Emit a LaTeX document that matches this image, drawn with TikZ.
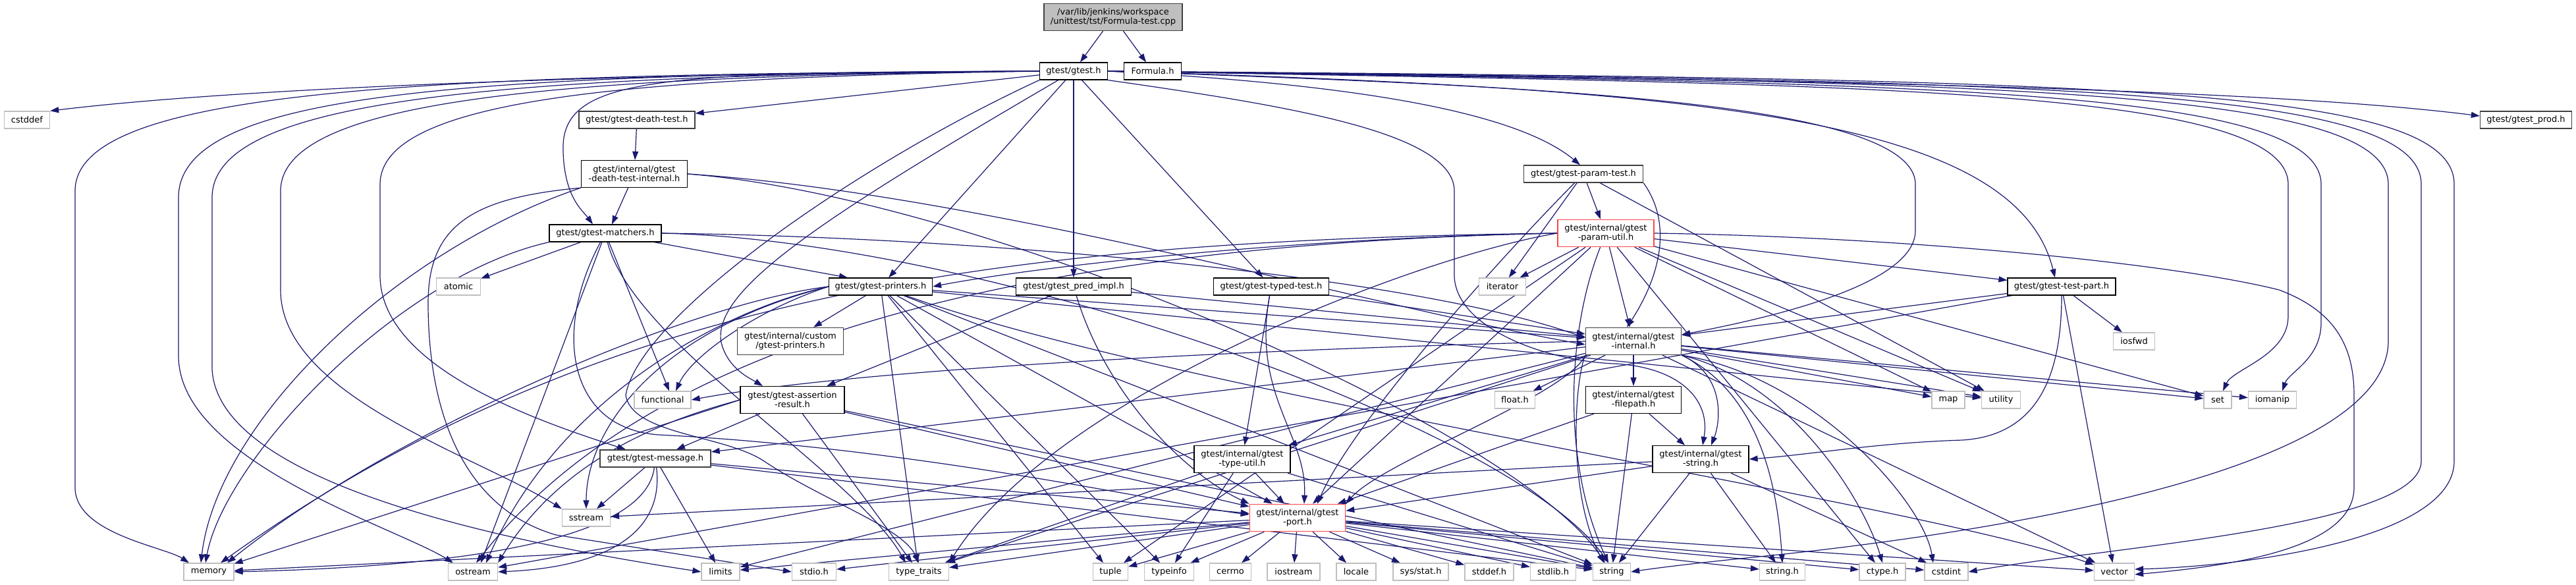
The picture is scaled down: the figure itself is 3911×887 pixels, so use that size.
\documentclass[tikz,border=0pt]{standalone}
\usepackage{fontspec}
\setmainfont{DejaVu Sans}
\usetikzlibrary{arrows.meta}
\definecolor{eblue}{RGB}{25,25,112}
\definecolor{leafgray}{RGB}{191,191,191}
\definecolor{dgray}{RGB}{64,64,64}
\definecolor{redb}{RGB}{250,70,70}
\pgfdeclarelayer{edges}
\pgfsetlayers{edges,main}
\begin{document}
\begin{tikzpicture}[x=1pt,y=1pt,
 every node/.style={font=\fontsize{13}{14}\selectfont, align=center, inner sep=2pt, fill=white, minimum height=26pt},
 hdr/.style={draw=black, line width=1.2pt},
 hdrg/.style={draw=dgray, line width=1.4pt},
 leaf/.style={draw=leafgray, line width=1.3pt},
 redn/.style={draw=redb, line width=1.6pt},
 rootn/.style={draw=dgray, fill=leafgray, line width=1.3pt},
 two/.style={minimum height=41pt},
 e/.style={draw=eblue, line width=1.2pt, -{Triangle[length=13pt,width=9pt]}}]
\useasboundingbox (0,0) rectangle (3911,-887);

% ---------- nodes ----------
\node[rootn,two,minimum width=210pt] (root) at (1690,-26) {/var/lib/jenkins/workspace\\/unittest/tst/Formula-test.cpp};
\node[hdr,minimum width=103pt] (gtest) at (1630,-108) {gtest/gtest.h};
\node[hdr,minimum width=87pt] (formula) at (1750,-108) {Formula.h};
\node[leaf,minimum width=69pt] (cstddef) at (41,-182) {cstddef};
\node[hdrg,minimum width=176pt] (death) at (967,-182) {gtest/gtest-death-test.h};
\node[hdrg,minimum width=139pt] (prod) at (3835,-182) {gtest/gtest\_prod.h};
\node[hdr,two,minimum width=161pt] (deathint) at (963,-264) {gtest/internal/gtest\\-death-test-internal.h};
\node[hdrg,minimum width=181pt] (paramtest) at (2404,-264) {gtest/gtest-param-test.h};
\node[hdr,minimum width=170pt] (matchers) at (919,-354) {gtest/gtest-matchers.h};
\node[redn,two,minimum width=146pt] (paramutil) at (2438,-354) {gtest/internal/gtest\\-param-util.h};
\node[leaf,minimum width=67pt] (atomic) at (696,-435) {atomic};
\node[hdr,minimum width=157pt] (printers) at (1337,-435) {gtest/gtest-printers.h};
\node[hdr,minimum width=175pt] (predimpl) at (1630,-435) {gtest/gtest\_pred\_impl.h};
\node[hdr,minimum width=175pt] (typed) at (1930,-435) {gtest/gtest-typed-test.h};
\node[leaf,minimum width=71pt] (iterator) at (2281,-435) {iterator};
\node[hdr,minimum width=164pt] (testpart) at (3130,-435) {gtest/gtest-test-part.h};
\node[hdrg,two,minimum width=161pt] (custom) at (1200,-518) {gtest/internal/custom\\/gtest-printers.h};
\node[hdrg,two,minimum width=145pt] (internal) at (2480,-518) {gtest/internal/gtest\\-internal.h};
\node[leaf,minimum width=63pt] (iosfwd) at (3240,-518) {iosfwd};
\node[leaf,minimum width=86pt] (functional) at (1006,-607) {functional};
\node[hdr,two,minimum width=158pt] (assertion) at (1203,-607) {gtest/gtest-assertion\\-result.h};
\node[leaf,minimum width=61pt] (floath) at (2300,-607) {float.h};
\node[hdr,two,minimum width=145pt] (filepath) at (2480,-607) {gtest/internal/gtest\\-filepath.h};
\node[leaf,minimum width=50pt] (map) at (2958,-607) {map};
\node[leaf,minimum width=59pt] (utility) at (3038,-607) {utility};
\node[leaf,minimum width=42pt] (set) at (3367,-607) {set};
\node[leaf,minimum width=73pt] (iomanip) at (3450,-607) {iomanip};
\node[hdrg,minimum width=168pt] (message) at (995,-696) {gtest/gtest-message.h};
\node[hdr,two,minimum width=146pt] (typeutil) at (1886,-697) {gtest/internal/gtest\\-type-util.h};
\node[hdr,two,minimum width=146pt] (istring) at (2582,-697) {gtest/internal/gtest\\-string.h};
\node[leaf,minimum width=73pt] (sstream) at (890,-786) {sstream};
\node[redn,two,minimum width=145pt] (port) at (1970,-786) {gtest/internal/gtest\\-port.h};
\node[leaf,minimum width=76pt] (memory) at (317,-868) {memory};
\node[leaf,minimum width=75pt] (ostream) at (718,-868) {ostream};
\node[leaf,minimum width=58pt] (limits) at (1094,-868) {limits};
\node[leaf,minimum width=67pt] (stdioh) at (1236,-868) {stdio.h};
\node[leaf,minimum width=91pt] (typetraits) at (1395,-868) {type\_traits};
\node[leaf,minimum width=53pt] (tuple) at (1686,-868) {tuple};
\node[leaf,minimum width=75pt] (typeinfo) at (1775,-868) {typeinfo};
\node[leaf,minimum width=63pt] (cerrno) at (1868,-868) {cerrno};
\node[leaf,minimum width=80pt] (iostream) at (1964,-868) {iostream};
\node[leaf,minimum width=60pt] (locale) at (2059,-868) {locale};
\node[leaf,minimum width=84pt] (sysstat) at (2157,-868) {sys/stat.h};
\node[leaf,minimum width=74pt] (stddefh) at (2261,-868) {stddef.h};
\node[leaf,minimum width=69pt] (stdlibh) at (2358,-868) {stdlib.h};
\node[leaf,minimum width=57pt] (string) at (2447,-868) {string};
\node[leaf,minimum width=69pt] (stringh) at (2706,-868) {string.h};
\node[leaf,minimum width=70pt] (ctypeh) at (2858,-868) {ctype.h};
\node[leaf,minimum width=66pt] (cstdint) at (2955,-868) {cstdint};
\node[leaf,minimum width=61pt] (vector) at (3210,-868) {vector};

% ---------- edges ----------
\begin{pgfonlayer}{edges}
% root
\draw[e] (root) -- (gtest);
\draw[e] (root) -- (formula);
% gtest.h
\draw[e] (gtest.west) .. controls (900,-112) and (350,-135) .. (cstddef.north east);
\draw[e] (gtest) -- (death);
\draw[e] (gtest.west) .. controls (1000,-110) and (850,-115) .. (855,-230) .. controls (857,-300) and (885,-320) .. ([xshift=-19pt]matchers.north);
\draw[e] (gtest.west) .. controls (600,-112) and (114,-140) .. (114,-290) -- (114,-740) .. controls (114,-810) and (250,-830) .. ([xshift=-30pt]memory.north);
\draw[e] (gtest.west) .. controls (700,-112) and (271,-140) .. (271,-300) -- (271,-540) .. controls (271,-700) and (600,-800) .. ([xshift=-30pt]ostream.north);
\draw[e] (gtest.west) .. controls (750,-114) and (322,-150) .. (322,-300) -- (322,-560) .. controls (330,-730) and (750,-820) .. (limits.west);
\draw[e] (gtest.west) .. controls (850,-116) and (426,-150) .. (426,-290) -- (426,-440) .. controls (426,-600) and (720,-690) .. (sstream.north west);
\draw[e] (gtest.west) .. controls (950,-118) and (577,-150) .. (577,-280) -- (577,-420) .. controls (580,-560) and (820,-640) .. ([xshift=-45pt]message.north);
\draw[e] (gtest.south west) .. controls (1300,-250) and (970,-480) .. (950,-600) .. controls (960,-660) and (1100,-660) .. (1160,-700) .. controls (1250,-760) and (1370,-800) .. (typetraits.north);
\draw[e] (gtest) .. controls (1250,-330) and (1080,-440) .. (1095,-520) .. controls (1105,-560) and (1140,-575) .. ([xshift=-45pt]assertion.north);
\draw[e] (gtest) -- (printers);
\draw[e] (gtest) -- (predimpl);
\draw[e] (gtest) -- (typed);
\draw[e] (gtest.east) .. controls (2000,-125) and (2290,-160) .. ([xshift=-5pt]paramtest.north);
\draw[e] (gtest.south east) .. controls (1950,-160) and (2208,-200) .. (2208,-290) -- (2208,-420) .. controls (2212,-500) and (2350,-548) .. (2450,-552) .. controls (2540,-556) and (2598,-600) .. ([xshift=3pt]istring.north);
\draw[e] (gtest.east) .. controls (2300,-130) and (2908,-150) .. (2908,-280) -- (2908,-350) .. controls (2908,-430) and (2700,-480) .. ([yshift=10pt]internal.east);
\draw[e] (gtest.east) .. controls (2600,-135) and (3060,-180) .. ([xshift=-10pt]testpart.north);
\draw[e] (gtest.east) .. controls (2600,-120) and (3400,-130) .. ([yshift=6pt]prod.west);
\draw[e] (gtest.east) .. controls (2800,-128) and (3474,-130) .. (3474,-280) -- (3474,-480) .. controls (3474,-540) and (3390,-560) .. ([xshift=8pt]set.north);
\draw[e] (gtest.east) .. controls (2900,-126) and (3524,-130) .. (3524,-280) -- (3524,-490) .. controls (3524,-545) and (3475,-565) .. ([xshift=15pt]iomanip.north);
\draw[e] (gtest.east) .. controls (3000,-124) and (3626,-130) .. (3626,-280) -- (3626,-520) .. controls (3620,-720) and (3000,-810) .. (2700,-842) .. controls (2600,-852) and (2530,-860) .. (string.east);
\draw[e] (gtest.east) .. controls (3100,-122) and (3676,-130) .. (3676,-280) -- (3676,-700) .. controls (3676,-800) and (3200,-830) .. (cstdint.east);
\draw[e] (gtest.east) .. controls (3200,-120) and (3726,-130) .. (3726,-280) -- (3726,-700) .. controls (3726,-820) and (3400,-860) .. ([yshift=4pt]vector.east);
% death-test
\draw[e] (death) -- (deathint);
% death-test-internal
\draw[e] (deathint) -- ([xshift=10pt]matchers.north);
\draw[e] (deathint.south west) .. controls (600,-380) and (330,-640) .. ([xshift=-12pt]memory.north);
\draw[e] (deathint.south west) .. controls (720,-300) and (650,-340) .. (650,-460) .. controls (650,-620) and (700,-770) .. (844,-812) -- (stdioh.west);
\draw[e] (deathint.east) .. controls (1500,-300) and (2300,-650) .. ([xshift=-10pt]string.north);
\draw[e] (deathint.east) .. controls (1500,-295) and (2100,-470) .. ([yshift=-5pt]internal.west);
% matchers
\draw[e] (matchers) -- (atomic);
\draw[e] (matchers) -- ([xshift=10pt]functional.north);
\draw[e] (matchers.south west) .. controls (600,-420) and (340,-700) .. ([xshift=-5pt]memory.north);
\draw[e] (matchers) -- ([xshift=12pt]ostream.north);
\draw[e] (matchers.east) .. controls (1500,-365) and (2300,-650) .. ([xshift=-5pt]string.north);
\draw[e] (matchers) .. controls (960,-520) and (1300,-720) .. ([xshift=-20pt]typetraits.north);
\draw[e] (matchers) -- ([xshift=-50pt]printers.north);
\draw[e] (matchers.east) .. controls (1500,-360) and (2150,-420) .. ([yshift=5pt]internal.west);
\draw[e] (matchers) .. controls (840,-500) and (860,-650) .. (1000,-660) .. controls (1400,-680) and (1800,-770) .. ([yshift=5pt]port.west);
% printers
\draw[e] (printers.west) .. controls (1150,-470) and (1050,-540) .. ([xshift=20pt]functional.north);
\draw[e] (printers.west) .. controls (1050,-460) and (600,-650) .. ([xshift=28pt]memory.north);
\draw[e] (printers.west) .. controls (1100,-470) and (850,-600) .. ([xshift=20pt]ostream.north);
\draw[e] (printers.west) .. controls (1000,-500) and (890,-650) .. (sstream.north);
\draw[e] (printers) -- (string);
\draw[e] (printers) -- (tuple);
\draw[e] (printers) -- (typetraits);
\draw[e] (printers) -- (typeinfo);
\draw[e] (printers) -- (utility);
\draw[e] (printers) .. controls (1800,-600) and (2900,-760) .. (vector);
\draw[e] (printers) -- (internal);
\draw[e] (printers) -- (port);
\draw[e] (printers) -- (custom);
% pred_impl
\draw[e] (predimpl) -- (assertion);
\draw[e] (predimpl) -- (internal);
\draw[e] (predimpl) .. controls (1680,-600) and (1800,-720) .. (port.north west);
% typed-test
\draw[e] (typed) -- (internal);
\draw[e] (typed) .. controls (1900,-600) and (1985,-660) .. ([xshift=10pt]port.north);
\draw[e] (typed) -- (typeutil);
% param-test
\draw[e] (paramtest) -- (iterator);
\draw[e] (paramtest) -- (utility);
\draw[e] (paramtest.south east) .. controls (2540,-340) and (2520,-420) .. ([xshift=-10pt]internal.north);
\draw[e] (paramtest) -- (paramutil);
\draw[e] (paramtest) .. controls (2250,-420) and (2050,-650) .. ([xshift=30pt]port.north);
% param-util
\draw[e] (paramutil) -- (ctypeh);
\draw[e] (paramutil) -- (iterator);
\draw[e] (paramutil) -- (map);
\draw[e] (paramutil.west) .. controls (1500,-365) and (900,-450) .. ([xshift=18pt]memory.north);
\draw[e] (paramutil.west) .. controls (1600,-370) and (1000,-500) .. ([xshift=5pt]ostream.north);
\draw[e] (paramutil) -- (set);
\draw[e] (paramutil) .. controls (2380,-500) and (2370,-700) .. ([xshift=-5pt]string.north);
\draw[e] (paramutil) -- (tuple);
\draw[e] (paramutil.west) .. controls (2150,-390) and (1600,-600) .. (typetraits.north east);
\draw[e] (paramutil) -- (utility);
\draw[e] (paramutil.east) .. controls (2900,-360) and (3300,-400) .. (3460,-440) .. controls (3540,-470) and (3574,-520) .. (3574,-600) -- (3574,-740) .. controls (3574,-830) and (3400,-858) .. ([yshift=-4pt]vector.east);
\draw[e] (paramutil.west) .. controls (2000,-360) and (1600,-400) .. (printers.east);
\draw[e] (paramutil) -- (testpart);
\draw[e] (paramutil) -- (internal);
\draw[e] (paramutil) -- (port);
% test-part
\draw[e] (testpart) -- (iosfwd);
\draw[e] (testpart) -- (vector);
\draw[e] (testpart) -- (ostream);
\draw[e] (testpart) -- (internal);
\draw[e] (testpart.south) .. controls (3130,-560) and (3100,-660) .. (2980,-668) .. controls (2850,-672) and (2750,-690) .. (istring.east);
% assertion-result
\draw[e] (assertion.west) -- (memory);
\draw[e] (assertion.west) .. controls (1000,-640) and (850,-700) .. (ostream.north east);
\draw[e] (assertion) -- (string);
\draw[e] (assertion) -- (typetraits);
\draw[e] (assertion) -- (message);
\draw[e] (assertion) -- (port);
% message
\draw[e] (message) -- (limits);
\draw[e] (message) .. controls (980,-820) and (700,-860) .. (memory.east);
\draw[e] (message) .. controls (1010,-820) and (900,-862) .. (ostream.east);
\draw[e] (message) -- (sstream);
\draw[e] (message) -- (string);
\draw[e] (message) -- (port);
% gtest-internal
\draw[e] (internal.south west) .. controls (2380,-600) and (2100,-700) .. (port.north east);
\draw[e] (internal.south east) .. controls (2720,-580) and (2830,-760) .. (ctypeh.north);
\draw[e] (internal) -- (floath);
\draw[e] (internal.south east) .. controls (2680,-600) and (2700,-760) .. (stringh.north);
\draw[e] (internal.south east) .. controls (2750,-570) and (2920,-760) .. ([xshift=-20pt]cstdint.north);
\draw[e] (internal.west) .. controls (1900,-530) and (1300,-560) .. (functional.east);
\draw[e] (internal) -- (iomanip);
\draw[e] (internal) -- (limits);
\draw[e] (internal) -- (map);
\draw[e] (internal) -- (set);
\draw[e] (internal.south west) .. controls (2390,-580) and (2380,-750) .. ([xshift=-12pt]string.north);
\draw[e] (internal) -- (typetraits);
\draw[e] (internal) -- (utility);
\draw[e] (internal) -- (vector);
\draw[e] (internal) -- (message);
\draw[e] (internal) -- (filepath);
\draw[e] (internal.south east) .. controls (2620,-570) and (2612,-640) .. ([xshift=16pt]istring.north);
\draw[e] (internal) -- (typeutil);
% filepath
\draw[e] (filepath) -- (string);
\draw[e] (filepath) -- (port);
\draw[e] (filepath) -- (istring);
% internal string
\draw[e] (istring) -- (stringh);
\draw[e] (istring) -- (cstdint);
\draw[e] (istring) -- (sstream);
\draw[e] (istring) -- (string);
\draw[e] (istring) -- (port);
% type-util
\draw[e] (typeutil) -- (string);
\draw[e] (typeutil) -- (typetraits);
\draw[e] (typeutil) -- (typeinfo);
\draw[e] (typeutil) -- (port);
% port
\foreach \t in {typetraits,tuple,typeinfo,cerrno,iostream,locale,sysstat,stddefh,stdlibh,string,stringh,ctypeh,cstdint,vector,memory,limits,stdioh}
  \draw[e] (port) -- (\t);
\end{pgfonlayer}
\end{tikzpicture}
\end{document}
